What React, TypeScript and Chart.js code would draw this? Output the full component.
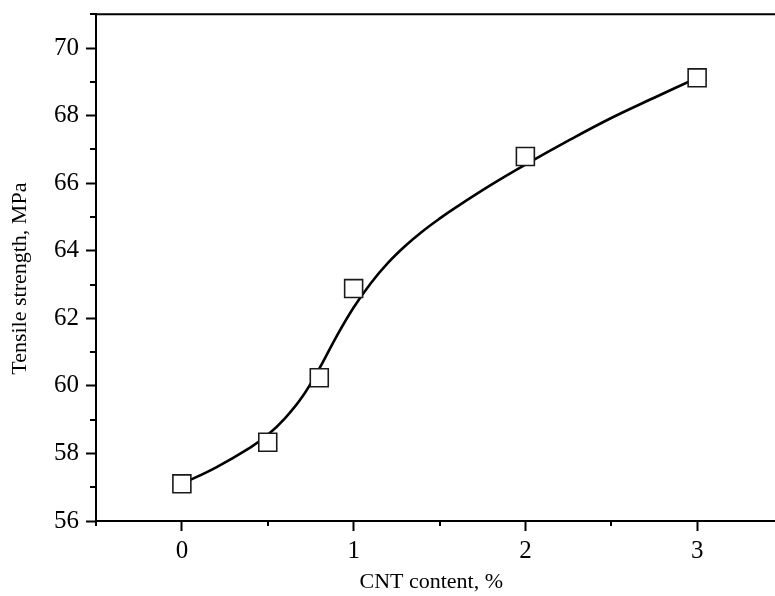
import React, { useEffect, useRef } from "react";
import { Chart, registerables } from "chart.js";

Chart.register(...registerables);

// Measured points (CNT content %, tensile strength MPa)
const cntContent = [0, 0.5, 0.8, 1, 2, 3];
const tensileStrength = [57.1, 58.33, 60.24, 62.88, 66.79, 69.12];

// Smooth fitted curve
const curveX = [0, 0.2, 0.4, 0.5, 0.6, 0.7, 0.8, 0.9, 1.0, 1.1, 1.2, 1.3, 1.4, 1.5, 1.6, 1.8, 2.0, 2.25, 2.5, 2.75, 3.0];
const curveY = [57.1, 57.59, 58.18, 58.55, 59.04, 59.67, 60.51, 61.46, 62.32, 63.04, 63.64, 64.14, 64.57, 64.95, 65.3, 65.95, 66.55, 67.26, 67.93, 68.53, 69.12];

const xMajorTicks = [0, 1, 2, 3];
const xMinorTicks = [-0.5, 0.5, 1.5, 2.5, 3.5];
const yMajorTicks = [56, 58, 60, 62, 64, 66, 68, 70];
const yMinorTicks = [57, 59, 61, 63, 65, 67, 69, 71];

const xTitle = "CNT content, %   ";
const yTitle = "Tensile strength, MPa    ";

const FONT = "'Liberation Serif', 'Times New Roman', serif";

const framePlugin = {
  id: "frame",
  afterDraw(chart: any) {
    const { ctx, chartArea, scales } = chart;
    const xs = scales.x;
    const ys = scales.y;
    ctx.save();
    ctx.strokeStyle = "#000";
    ctx.lineWidth = 2;
    ctx.beginPath();
    // top frame line
    ctx.moveTo(chartArea.left, chartArea.top);
    ctx.lineTo(chartArea.right + 10, chartArea.top);
    // x minor ticks
    for (const v of xMinorTicks) {
      const px = Math.round(xs.getPixelForValue(v));
      ctx.moveTo(px, chartArea.bottom);
      ctx.lineTo(px, chartArea.bottom + 5);
    }
    // y minor ticks
    for (const v of yMinorTicks) {
      const py = Math.round(ys.getPixelForValue(v));
      ctx.moveTo(chartArea.left, py);
      ctx.lineTo(chartArea.left - 6, py);
    }
    ctx.stroke();
    ctx.restore();
  },
};

export default function App() {
  const canvasRef = useRef<HTMLCanvasElement | null>(null);

  useEffect(() => {
    const canvas = canvasRef.current;
    if (!canvas) return;
    const chart = new Chart(canvas, {
      type: "scatter",
      data: {
        datasets: [
          {
            label: "measured",
            data: cntContent.map((x, i) => ({ x, y: tensileStrength[i] })),
            showLine: false,
            pointStyle: "rect",
            pointRadius: 12.7,
            pointHoverRadius: 12.7,
            backgroundColor: "#ffffff",
            borderColor: "#1a1a1a",
            borderWidth: 1.6,
            order: 0,
          },
          {
            label: "fit",
            data: curveX.map((x, i) => ({ x, y: curveY[i] })),
            showLine: true,
            pointRadius: 0,
            pointHoverRadius: 0,
            borderColor: "#000000",
            borderWidth: 2.6,
            tension: 0.4,
            fill: false,
            order: 1,
          },
        ],
      },
      options: {
        animation: false,
        responsive: true,
        maintainAspectRatio: false,
        devicePixelRatio: 1,
        layout: { padding: { top: 12, right: 17, left: 0, bottom: 0 } },
        plugins: {
          legend: { display: false },
          tooltip: { enabled: false },
        },
        scales: {
          x: {
            type: "linear",
            min: -0.5,
            max: 3.5,
            afterBuildTicks: (scale: any) => {
              scale.ticks = xMajorTicks.map((v) => ({ value: v }));
            },
            afterFit: (scale: any) => {
              scale.height = 75;
              scale.paddingLeft = 0;
              scale.paddingRight = 0;
            },
            grid: {
              display: true,
              drawOnChartArea: false,
              drawTicks: true,
              tickLength: 10,
              tickWidth: 2,
              tickColor: "#000",
            },
            border: { display: true, color: "#000", width: 2 },
            ticks: {
              color: "#000",
              padding: 5,
              maxRotation: 0,
              font: { family: FONT, size: 25 },
              callback: (v: any) => String(v),
            },
            title: {
              display: true,
              text: xTitle,
              color: "#000",
              font: { family: FONT, size: 22 },
              padding: { top: 0, bottom: 1 },
            },
          },
          y: {
            type: "linear",
            min: 56,
            max: 71,
            afterBuildTicks: (scale: any) => {
              scale.ticks = yMajorTicks.map((v) => ({ value: v }));
            },
            afterFit: (scale: any) => {
              scale.width = 96;
              scale.paddingTop = 0;
              scale.paddingBottom = 0;
            },
            grid: {
              display: true,
              drawOnChartArea: false,
              drawTicks: true,
              tickLength: 10,
              tickWidth: 2,
              tickColor: "#000",
            },
            border: { display: true, color: "#000", width: 2 },
            ticks: {
              color: "#000",
              padding: 7,
              font: { family: FONT, size: 25 },
              callback: (v: any) => String(v),
            },
            title: {
              display: true,
              text: yTitle,
              color: "#000",
              font: { family: FONT, size: 22 },
              padding: { top: 7, bottom: 0 },
            },
          },
        },
      },
      plugins: [framePlugin],
    });
    return () => chart.destroy();
  }, []);

  return (
    <div
      style={{
        position: "fixed",
        left: 0,
        top: 0,
        width: 775,
        height: 596,
        overflow: "hidden",
        background: "#fff",
      }}
    >
      <div style={{ position: "relative", width: 800, height: 596 }}>
        <canvas ref={canvasRef} />
      </div>
    </div>
  );
}
